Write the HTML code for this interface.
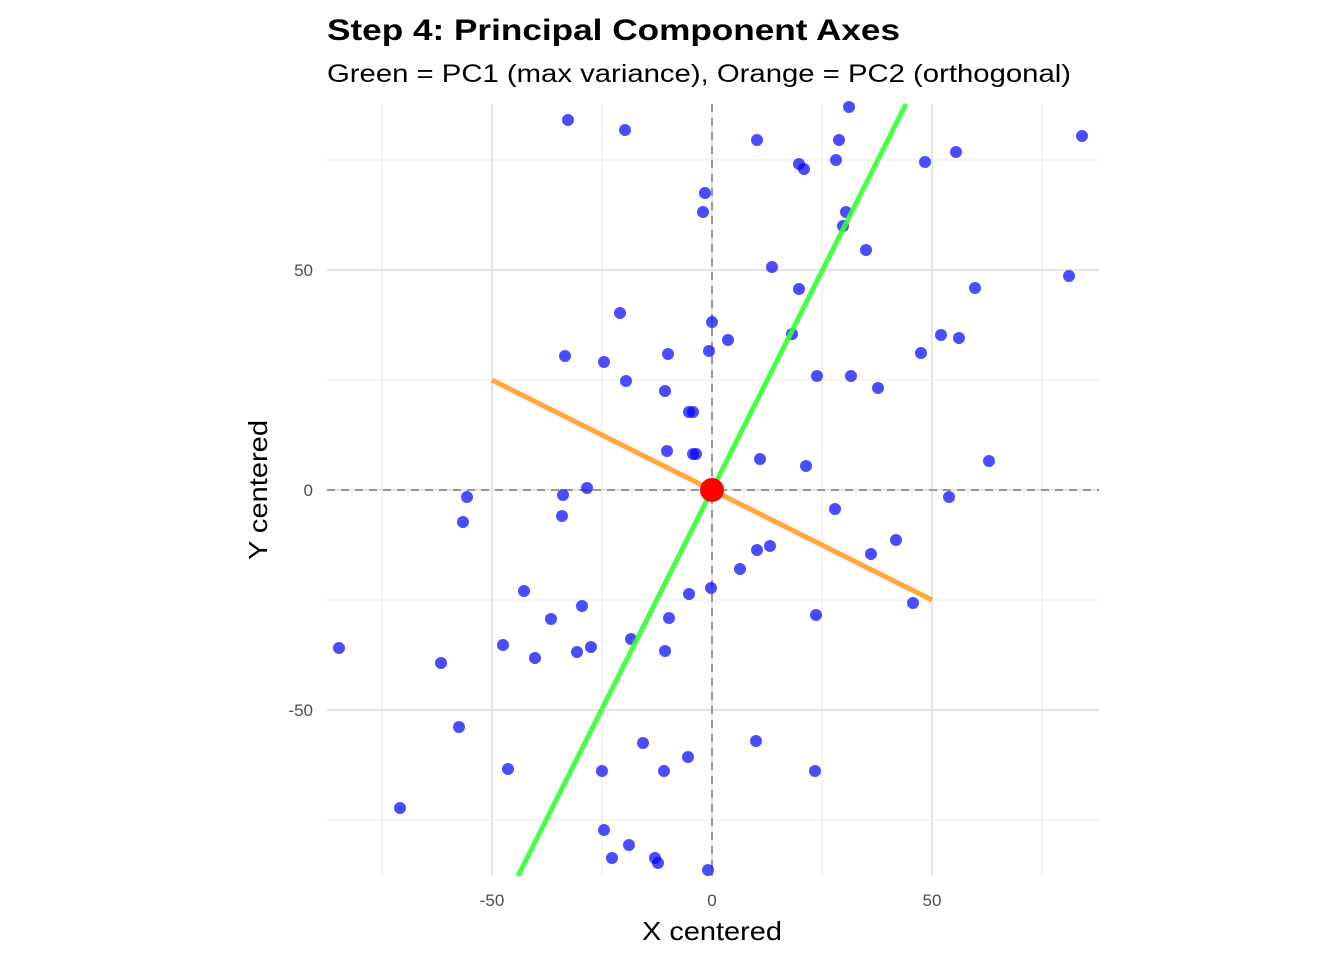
<!DOCTYPE html>
<html><head><meta charset="utf-8"><style>html,body{margin:0;padding:0;background:#fff}svg{display:block}</style></head>
<body>
<svg width="1344" height="960" xmlns="http://www.w3.org/2000/svg" font-family="Liberation Sans, sans-serif">
<rect width="1344" height="960" fill="#fff"/>
<g stroke="#ebebeb" stroke-width="1.1">
<line x1="382" y1="104" x2="382" y2="876"/><line x1="602" y1="104" x2="602" y2="876"/><line x1="822" y1="104" x2="822" y2="876"/><line x1="1042" y1="104" x2="1042" y2="876"/>
<line x1="327" y1="160" x2="1099" y2="160"/><line x1="327" y1="380" x2="1099" y2="380"/><line x1="327" y1="600" x2="1099" y2="600"/><line x1="327" y1="820" x2="1099" y2="820"/>
</g>
<g stroke="#e5e5e5" stroke-width="2.2">
<line x1="492" y1="104" x2="492" y2="876"/><line x1="712" y1="104" x2="712" y2="876"/><line x1="932" y1="104" x2="932" y2="876"/>
<line x1="327" y1="270" x2="1099" y2="270"/><line x1="327" y1="490" x2="1099" y2="490"/><line x1="327" y1="710" x2="1099" y2="710"/>
</g>
<g stroke="#999" stroke-width="2" stroke-dasharray="8,6">
<line x1="712" y1="104" x2="712" y2="876"/><line x1="327" y1="490" x2="1099" y2="490"/>
</g>
<g fill="#0000ff" fill-opacity="0.7">
<circle cx="568" cy="120" r="6"/><circle cx="625" cy="130" r="6"/><circle cx="849" cy="107" r="6"/><circle cx="757" cy="140" r="6"/><circle cx="839" cy="140" r="6"/><circle cx="1082" cy="136" r="6"/><circle cx="799" cy="164" r="6"/><circle cx="804" cy="169" r="6"/><circle cx="836" cy="160" r="6"/><circle cx="956" cy="152" r="6"/><circle cx="925" cy="162" r="6"/><circle cx="705" cy="193" r="6"/><circle cx="703" cy="212" r="6"/><circle cx="846" cy="212" r="6"/><circle cx="843" cy="226" r="6"/><circle cx="866" cy="250" r="6"/><circle cx="772" cy="267" r="6"/><circle cx="1069" cy="276" r="6"/><circle cx="975" cy="288" r="6"/><circle cx="799" cy="289" r="6"/><circle cx="620" cy="313" r="6"/><circle cx="712" cy="322" r="6"/><circle cx="728" cy="340" r="6"/><circle cx="941" cy="335" r="6"/><circle cx="959" cy="338" r="6"/><circle cx="565" cy="356" r="6"/><circle cx="604" cy="362" r="6"/><circle cx="668" cy="354" r="6"/><circle cx="709" cy="351" r="6"/><circle cx="792" cy="334" r="6"/><circle cx="921" cy="353" r="6"/><circle cx="626" cy="381" r="6"/><circle cx="817" cy="376" r="6"/><circle cx="851" cy="376" r="6"/><circle cx="878" cy="388" r="6"/><circle cx="665" cy="391" r="6"/><circle cx="689" cy="412" r="6"/><circle cx="693" cy="412" r="6"/><circle cx="667" cy="451" r="6"/><circle cx="693" cy="454" r="6"/><circle cx="696" cy="454" r="6"/><circle cx="760" cy="459" r="6"/><circle cx="806" cy="466" r="6"/><circle cx="989" cy="461" r="6"/><circle cx="467" cy="497" r="6"/><circle cx="587" cy="488" r="6"/><circle cx="563" cy="495" r="6"/><circle cx="949" cy="497" r="6"/><circle cx="463" cy="522" r="6"/><circle cx="562" cy="516" r="6"/><circle cx="835" cy="509" r="6"/><circle cx="896" cy="540" r="6"/><circle cx="770" cy="546" r="6"/><circle cx="757" cy="550" r="6"/><circle cx="871" cy="554" r="6"/><circle cx="740" cy="569" r="6"/><circle cx="711" cy="588" r="6"/><circle cx="524" cy="591" r="6"/><circle cx="689" cy="594" r="6"/><circle cx="582" cy="606" r="6"/><circle cx="913" cy="603" r="6"/><circle cx="551" cy="619" r="6"/><circle cx="669" cy="618" r="6"/><circle cx="816" cy="615" r="6"/><circle cx="631" cy="639" r="6"/><circle cx="503" cy="645" r="6"/><circle cx="591" cy="647" r="6"/><circle cx="577" cy="652" r="6"/><circle cx="665" cy="651" r="6"/><circle cx="339" cy="648" r="6"/><circle cx="535" cy="658" r="6"/><circle cx="441" cy="663" r="6"/><circle cx="459" cy="727" r="6"/><circle cx="643" cy="743" r="6"/><circle cx="756" cy="741" r="6"/><circle cx="688" cy="757" r="6"/><circle cx="508" cy="769" r="6"/><circle cx="602" cy="771" r="6"/><circle cx="664" cy="771" r="6"/><circle cx="815" cy="771" r="6"/><circle cx="400" cy="808" r="6"/><circle cx="604" cy="830" r="6"/><circle cx="629" cy="845" r="6"/><circle cx="612" cy="858" r="6"/><circle cx="655" cy="858" r="6"/><circle cx="658" cy="863" r="6"/><circle cx="708" cy="870" r="6"/>
</g>
<line x1="518" y1="876" x2="906" y2="104" stroke="#33ff33" stroke-opacity="0.9" stroke-width="5"/>
<line x1="492" y1="380" x2="932" y2="600" stroke="#ffa022" stroke-opacity="0.9" stroke-width="5"/>
<circle cx="712" cy="490" r="12" fill="#ff0000"/>
<g font-size="17" fill="#4d4d4d" text-anchor="middle">
<text x="492" y="906">-50</text><text x="712" y="906">0</text><text x="932" y="906">50</text>
</g>
<g font-size="17" fill="#4d4d4d" text-anchor="end">
<text x="313" y="276">50</text><text x="313" y="496">0</text><text x="313" y="716">-50</text>
</g>
<text x="642" y="940" font-size="26" textLength="140" lengthAdjust="spacingAndGlyphs" fill="#000">X centered</text>
<text transform="translate(267,560) rotate(-90)" font-size="26" textLength="140" lengthAdjust="spacingAndGlyphs" fill="#000">Y centered</text>
<text x="327" y="40" font-size="30" font-weight="bold" textLength="573" lengthAdjust="spacingAndGlyphs" fill="#000">Step 4: Principal Component Axes</text>
<text x="327" y="82" font-size="25" textLength="744" lengthAdjust="spacingAndGlyphs" fill="#000">Green = PC1 (max variance), Orange = PC2 (orthogonal)</text>
</svg>
</body></html>
